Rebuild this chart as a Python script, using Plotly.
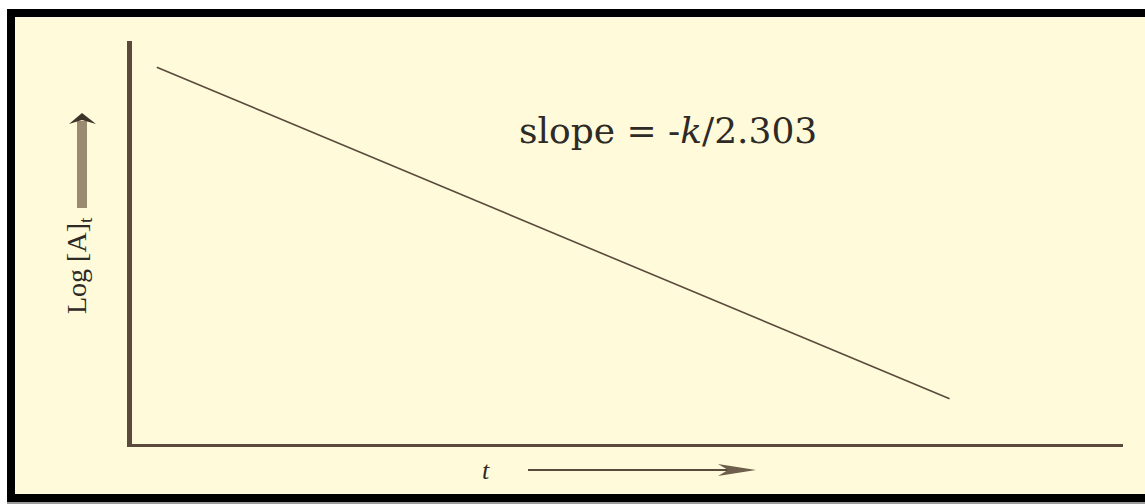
import plotly.graph_objects as go

# First-order kinetics: log[A]t falls linearly with time t
t_values = [0.25, 8.25]
log_a_values = [9.35, 1.12]

x_range = [0, 10]
y_range = [0, 10]

line_color = "#5A4A3B"
bg_cream = "#FFFBDA"

fig = go.Figure()
fig.add_trace(go.Scatter(
    x=t_values, y=log_a_values, mode="lines",
    line=dict(color=line_color, width=1.6),
    hoverinfo="skip", showlegend=False,
))

W, H = 1145, 504
M_L, M_R, M_T, M_B = 132, 22, 41, 60
PLOT_W = W - M_L - M_R
PLOT_H = H - M_T - M_B


def px_x(v):
    """Pixel column -> paper x (relative to the plotting area)."""
    return (v - M_L) / PLOT_W


def px_y(v):
    """Pixel row -> paper y (relative to the plotting area)."""
    return (H - M_B - v) / PLOT_H


shapes = [
    # outer black frame (left, top, bottom) and cream panel
    dict(type="rect", xref="paper", yref="paper", layer="below",
         x0=px_x(7), x1=px_x(1200), y0=px_y(502), y1=px_y(9),
         fillcolor="#000000", line=dict(width=0)),
    dict(type="rect", xref="paper", yref="paper", layer="below",
         x0=px_x(15), x1=px_x(1200), y0=px_y(494), y1=px_y(17),
         fillcolor=bg_cream, line=dict(width=0)),
    dict(type="rect", xref="paper", yref="paper", layer="below",
         x0=px_x(7), x1=px_x(1200), y0=px_y(505), y1=px_y(502),
         fillcolor="#9a9a9a", line=dict(width=0)),
    # vertical arrow beside the y label
    dict(type="rect", xref="paper", yref="paper",
         x0=px_x(77), x1=px_x(87), y0=px_y(208), y1=px_y(121),
         fillcolor="#9A8A70", line=dict(width=0)),
    dict(type="path", xref="paper", yref="paper",
         path=f"M {px_x(69)},{px_y(124)} L {px_x(82)},{px_y(113)} L {px_x(96)},{px_y(124)} L {px_x(82)},{px_y(120)} Z",
         fillcolor="#3E3328", line=dict(width=0)),
    # horizontal arrow beside the x label
    dict(type="line", xref="paper", yref="paper",
         x0=px_x(528), x1=px_x(750), y0=px_y(470), y1=px_y(470),
         line=dict(color=line_color, width=2)),
    dict(type="path", xref="paper", yref="paper",
         path=f"M {px_x(718)},{px_y(464)} L {px_x(756)},{px_y(470)} L {px_x(718)},{px_y(476)} L {px_x(728)},{px_y(470)} Z",
         fillcolor="#6E5E4C", line=dict(width=0)),
]

annotations = [
    dict(text="slope = -<i>k</i>/2.303", xref="paper", yref="paper",
         x=px_x(668), y=px_y(130), xanchor="center", yanchor="middle",
         showarrow=False,
         font=dict(family="DejaVu Serif", size=36, color="#2E2A26")),
    dict(text="Log [A]<sub>t</sub>", xref="paper", yref="paper",
         x=px_x(78), y=px_y(266), xanchor="center", yanchor="middle",
         textangle=-90, showarrow=False,
         font=dict(family="Liberation Serif", size=28, color="#2E2A26")),
    dict(text="<i>t</i>", xref="paper", yref="paper",
         x=px_x(486), y=px_y(470), xanchor="center", yanchor="middle",
         showarrow=False,
         font=dict(family="Liberation Serif", size=26, color="#2E2A26")),
]

fig.update_layout(
    width=W, height=H,
    margin=dict(l=M_L, r=M_R, t=M_T, b=M_B),
    paper_bgcolor="#ffffff",
    plot_bgcolor="rgba(0,0,0,0)",
    shapes=shapes,
    annotations=annotations,
    xaxis=dict(range=x_range, showgrid=False, zeroline=False,
               showticklabels=False, ticks="", showline=True,
               linecolor=line_color, linewidth=3),
    yaxis=dict(range=y_range, showgrid=False, zeroline=False,
               showticklabels=False, ticks="", showline=True,
               linecolor=line_color, linewidth=5),
)

fig.write_html("out.html")
